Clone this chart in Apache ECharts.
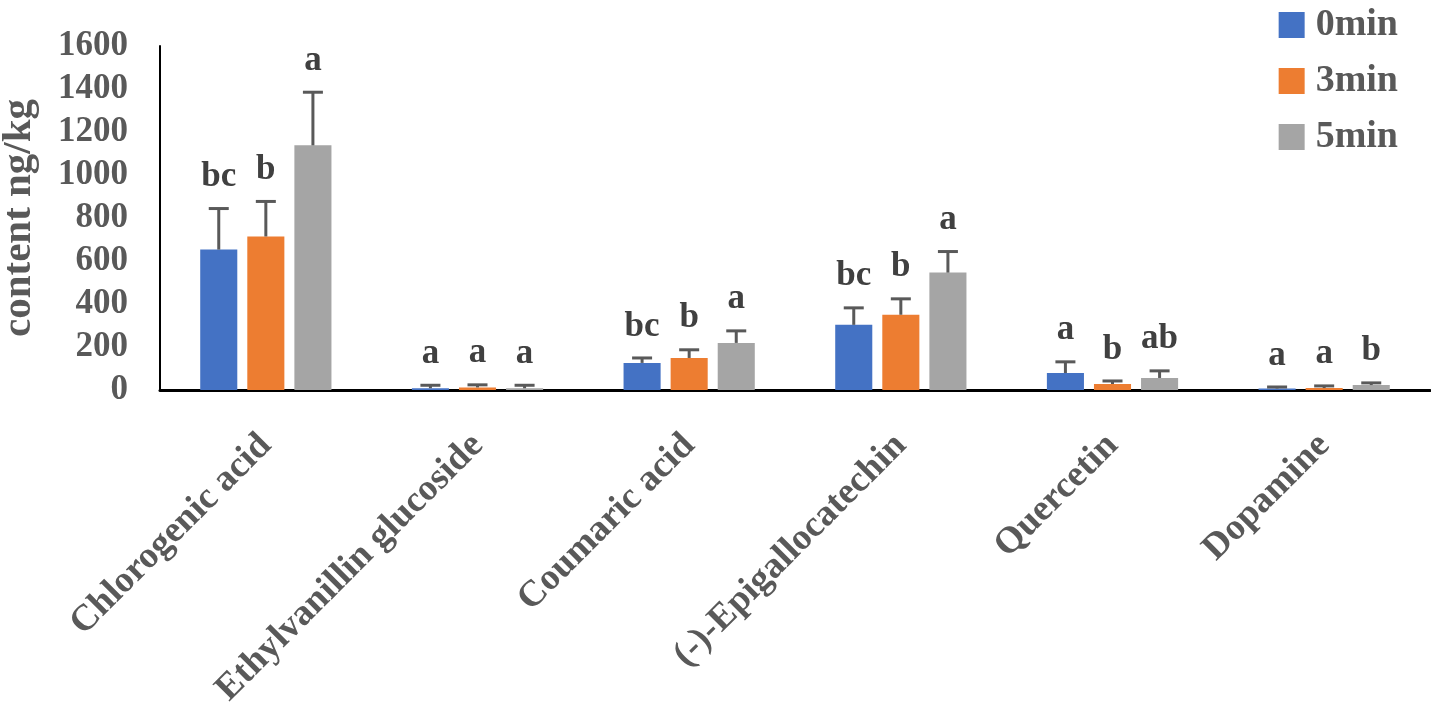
<!DOCTYPE html>
<html>
<head>
<meta charset="utf-8">
<script src="https://cdn.jsdelivr.net/npm/echarts@6/dist/echarts.min.js"></script>
<style>html,body{margin:0;padding:0;background:#fff}#c{width:1431px;height:712px}</style>
</head>
<body>
<div id="c"></div>
<script>
const categories = ['Chlorogenic acid', 'Ethylvanillin glucoside', 'Coumaric acid', '(-)-Epigallocatechin', 'Quercetin', 'Dopamine'];
const seriesNames = ['0min', '3min', '5min'];
const values0 = [653, 8, 126, 303, 79, 7];
const values3 = [714, 12, 149, 350, 28, 9];
const values5 = [1138, 8, 219, 546, 56, 23];
const err0 = [191, 14, 23, 79, 52, 7];
const err3 = [163, 12, 38, 74, 14, 10];
const err5 = [247, 14, 56, 98, 33, 10];
const letters0 = ['bc', 'a', 'bc', 'bc', 'a', 'a'];
const letters3 = ['b', 'a', 'b', 'b', 'b', 'a'];
const letters5 = ['a', 'a', 'a', 'a', 'ab', 'b'];
const yTicks = [0, 200, 400, 600, 800, 1000, 1200, 1400, 1600];

const colors = ['#4472C4', '#ED7D31', '#A5A5A5'];
const FONT = '"Liberation Serif", "Times New Roman", serif';
const CAT_GAP = 0.38, BAR_GAP = 0.27;

const vals = [values0, values3, values5];
const errs = [err0, err3, err5];
const lets = [letters0, letters3, letters5];

function errSeries(si) {
  return {
    type: 'custom',
    name: seriesNames[si] + ' err',
    z: 5,
    data: categories.map((c, i) => [i, vals[si][i], errs[si][i]]),
    renderItem: function (params, api) {
      const ci = api.value(0);
      const v = api.value(1);
      const e = api.value(2);
      const letter = lets[si][ci];
      const catW = api.size([1, 0])[0];
      const bw = catW * (1 - CAT_GAP) / (3 + 2 * BAR_GAP);
      const off = (si - 1) * bw * (1 + BAR_GAP);
      const p0 = api.coord([ci, v]);
      const p1 = api.coord([ci, v + e]);
      const x = p0[0] + off;
      const capW = 10;
      return {
        type: 'group',
        children: [
          { type: 'line', shape: { x1: x, y1: p0[1], x2: x, y2: p1[1] }, style: { stroke: '#595959', lineWidth: 3 } },
          { type: 'line', shape: { x1: x - capW, y1: p1[1], x2: x + capW, y2: p1[1] }, style: { stroke: '#595959', lineWidth: 3 } },
          { type: 'text', x: x, y: p1[1] - 14, style: { text: letter, fill: '#404040', font: 'bold 35px ' + FONT, align: 'center', verticalAlign: 'bottom' } }
        ]
      };
    }
  };
}

const chart = echarts.init(document.getElementById('c'));
chart.setOption({
  animation: false,
  backgroundColor: '#fff',
  color: colors,
  textStyle: { fontFamily: FONT },
  grid: { left: 160, right: 1, top: 46, bottom: 322, containLabel: false, outerBoundsMode: 'none' },
  legend: {
    data: seriesNames,
    orient: 'vertical',
    right: 28,
    top: 1,
    itemWidth: 26,
    itemHeight: 26,
    itemGap: 18,
    icon: 'rect',
    textStyle: { fontFamily: FONT, fontSize: 38, fontWeight: 'bold', color: '#595959', padding: [0, 0, 0, 6] }
  },
  xAxis: {
    type: 'category',
    data: categories,
    axisLine: { lineStyle: { color: '#000', width: 3 } },
    axisTick: { show: false },
    axisLabel: { interval: 0, rotate: 45, margin: 50, fontFamily: FONT, fontSize: 37, fontWeight: 'bold', color: '#595959' }
  },
  yAxis: {
    type: 'value',
    min: 0, max: 1600, interval: 200,
    name: 'content ng/kg',
    nameLocation: 'middle',
    nameGap: 120,
    nameRotate: 90,
    nameTextStyle: { fontFamily: FONT, fontSize: 41, fontWeight: 'bold', color: '#595959' },
    axisLine: { show: true, lineStyle: { color: '#000', width: 2 } },
    axisTick: { show: false },
    splitLine: { show: false },
    axisLabel: { margin: 32, fontFamily: FONT, fontSize: 35, fontWeight: 'bold', color: '#595959',
      formatter: v => yTicks.indexOf(v) >= 0 ? String(v) : '' }
  },
  series: [
    { type: 'bar', name: seriesNames[0], data: values0, barCategoryGap: (CAT_GAP * 100) + '%', barGap: (BAR_GAP * 100) + '%' },
    { type: 'bar', name: seriesNames[1], data: values3, barCategoryGap: (CAT_GAP * 100) + '%', barGap: (BAR_GAP * 100) + '%' },
    { type: 'bar', name: seriesNames[2], data: values5, barCategoryGap: (CAT_GAP * 100) + '%', barGap: (BAR_GAP * 100) + '%' },
    errSeries(0), errSeries(1), errSeries(2)
  ]
});
</script>
</body>
</html>
